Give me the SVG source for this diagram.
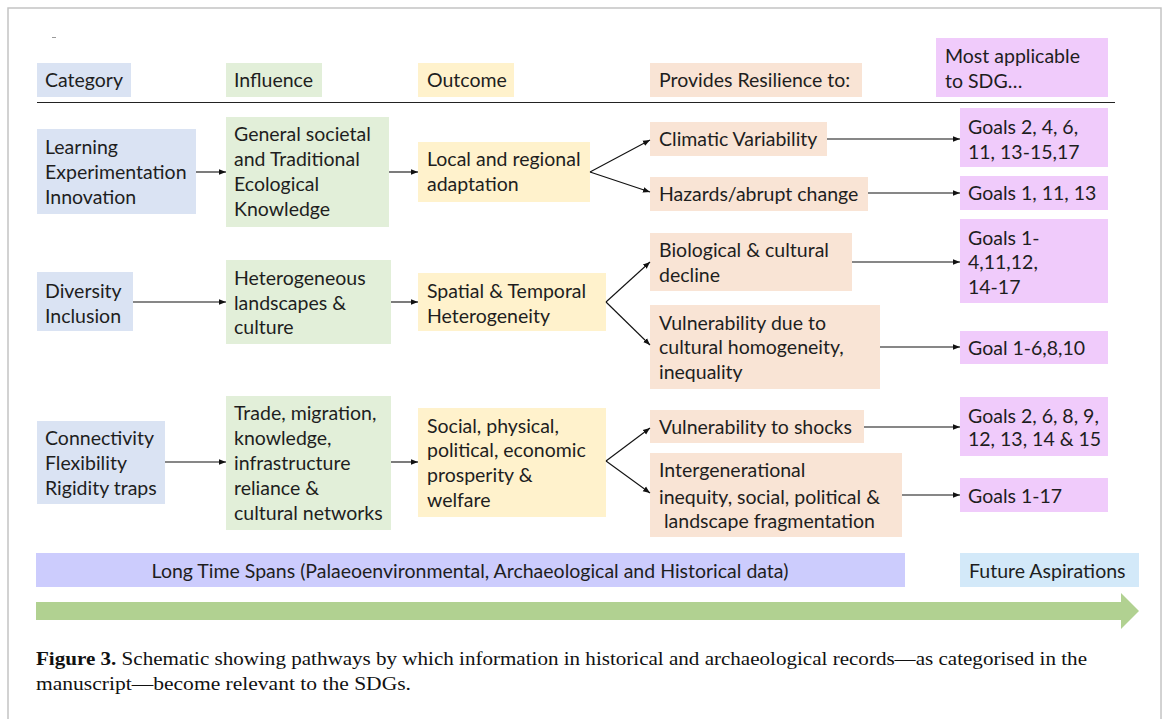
<svg xmlns="http://www.w3.org/2000/svg" width="1168" height="719" viewBox="0 0 1168 719">
  <defs>
    <marker id="ah" viewBox="0 0 10 10" refX="10" refY="5" markerWidth="7" markerHeight="7" markerUnits="userSpaceOnUse" orient="auto">
      <path d="M0,1 L10,5 L0,9 Z" fill="#111"/>
    </marker>
    <style>
      .t { font-family: Lato, "Open Sans", "Liberation Sans", sans-serif; font-size: 19.5px; fill: #1e1e1e; }
      .cat { fill: #dae3f3; }
      .inf { fill: #e2efd9; }
      .out { fill: #fff2cc; }
      .res { fill: #f9e4d5; }
      .sdg { fill: #f0cbfb; }
      .conn line { stroke: #111; stroke-width: 1.1; fill: none; marker-end: url(#ah); }
      .cap { font-family: "Liberation Serif", "Times New Roman", serif; font-size: 18px; fill: #111; }
    </style>
  </defs>

  <rect x="0" y="0" width="1168" height="719" fill="#ffffff"/>
  <!-- figure frame -->
  <rect x="8" y="8" width="1153" height="730" fill="#ffffff" stroke="#c4c4c4" stroke-width="1.5"/>
  <line x1="52" y1="37.5" x2="56" y2="37.5" stroke="#9a9a9a" stroke-width="1"/>

  <!-- column headers -->
  <g id="h-category"><rect class="cat" x="37" y="63" width="94" height="34"/><text class="t" x="45" y="87">Category</text></g>
  <g id="h-influence"><rect class="inf" x="226" y="63" width="96" height="34"/><text class="t" x="234" y="87">Influence</text></g>
  <g id="h-outcome"><rect class="out" x="418" y="63" width="96" height="34"/><text class="t" x="427" y="87">Outcome</text></g>
  <g id="h-resilience"><rect class="res" x="650" y="63" width="212" height="34"/><text class="t" x="659" y="87">Provides Resilience to:</text></g>
  <g id="h-sdg"><rect class="sdg" x="936" y="38" width="172" height="59"/><text class="t" x="945" y="63">Most applicable</text><text class="t" x="945" y="88">to SDG…</text></g>
  <line x1="37" y1="102.5" x2="1115" y2="102.5" stroke="#222" stroke-width="1.2"/>

  <!-- row 1 -->
  <g id="n-learning"><rect class="cat" x="37" y="129" width="159" height="85"/>
    <text class="t" x="45" y="154">Learning</text><text class="t" x="45" y="179">Experimentation</text><text class="t" x="45" y="204">Innovation</text></g>
  <g id="n-general"><rect class="inf" x="226" y="117" width="163" height="110"/>
    <text class="t" x="234" y="141">General societal</text><text class="t" x="234" y="166">and Traditional</text><text class="t" x="234" y="191">Ecological</text><text class="t" x="234" y="216">Knowledge</text></g>
  <g id="n-local"><rect class="out" x="418" y="142" width="172" height="60"/>
    <text class="t" x="427" y="166">Local and regional</text><text class="t" x="427" y="191">adaptation</text></g>
  <g id="n-climatic"><rect class="res" x="650" y="122" width="177" height="34"/>
    <text class="t" x="659" y="146">Climatic Variability</text></g>
  <g id="n-hazards"><rect class="res" x="650" y="177" width="218" height="34"/>
    <text class="t" x="659" y="201">Hazards/abrupt change</text></g>
  <g id="n-goals-a"><rect class="sdg" x="960" y="108" width="148" height="59"/>
    <text class="t" x="968" y="134">Goals 2, 4, 6,</text><text class="t" x="968" y="159">11, 13-15,17</text></g>
  <g id="n-goals-b"><rect class="sdg" x="960" y="176" width="148" height="34"/>
    <text class="t" x="968" y="200">Goals 1, 11, 13</text></g>

  <!-- row 2 -->
  <g id="n-diversity"><rect class="cat" x="37" y="272" width="96" height="59"/>
    <text class="t" x="45" y="298">Diversity</text><text class="t" x="45" y="323">Inclusion</text></g>
  <g id="n-hetero"><rect class="inf" x="226" y="260" width="165" height="84"/>
    <text class="t" x="234" y="285">Heterogeneous</text><text class="t" x="234" y="310">landscapes &amp;</text><text class="t" x="234" y="334">culture</text></g>
  <g id="n-spatial"><rect class="out" x="418" y="273" width="188" height="58"/>
    <text class="t" x="427" y="298">Spatial &amp; Temporal</text><text class="t" x="427" y="323">Heterogeneity</text></g>
  <g id="n-bio"><rect class="res" x="650" y="233" width="202" height="58"/>
    <text class="t" x="659" y="257">Biological &amp; cultural</text><text class="t" x="659" y="282">decline</text></g>
  <g id="n-vuln"><rect class="res" x="650" y="305" width="230" height="84"/>
    <text class="t" x="659" y="330">Vulnerability due to</text><text class="t" x="659" y="354">cultural homogeneity,</text><text class="t" x="659" y="379">inequality</text></g>
  <g id="n-goals-c"><rect class="sdg" x="960" y="219" width="148" height="84"/>
    <text class="t" x="968" y="245">Goals 1-</text><text class="t" x="968" y="269">4,11,12,</text><text class="t" x="968" y="294">14-17</text></g>
  <g id="n-goals-d"><rect class="sdg" x="960" y="331" width="148" height="33"/>
    <text class="t" x="968" y="355">Goal 1-6,8,10</text></g>

  <!-- row 3 -->
  <g id="n-connectivity"><rect class="cat" x="37" y="421" width="128" height="83"/>
    <text class="t" x="45" y="445">Connectivity</text><text class="t" x="45" y="470">Flexibility</text><text class="t" x="45" y="495">Rigidity traps</text></g>
  <g id="n-trade"><rect class="inf" x="226" y="396" width="165" height="134"/>
    <text class="t" x="234" y="420">Trade, migration,</text><text class="t" x="234" y="445">knowledge,</text><text class="t" x="234" y="470">infrastructure</text><text class="t" x="234" y="495">reliance &amp;</text><text class="t" x="234" y="520">cultural networks</text></g>
  <g id="n-social"><rect class="out" x="418" y="408" width="188" height="109"/>
    <text class="t" x="427" y="433">Social, physical,</text><text class="t" x="427" y="457">political, economic</text><text class="t" x="427" y="482">prosperity &amp;</text><text class="t" x="427" y="507">welfare</text></g>
  <g id="n-shocks"><rect class="res" x="650" y="410" width="214" height="33"/>
    <text class="t" x="659" y="434">Vulnerability to shocks</text></g>
  <g id="n-intergen"><rect class="res" x="650" y="453" width="252" height="84"/>
    <text class="t" x="659" y="477">Intergenerational</text><text class="t" x="659" y="504">inequity, social, political &amp;</text><text class="t" x="664" y="528">landscape fragmentation</text></g>
  <g id="n-goals-e"><rect class="sdg" x="960" y="397" width="148" height="59"/>
    <text class="t" x="968" y="423">Goals 2, 6, 8, 9,</text><text class="t" x="968" y="446">12, 13, 14 &amp; 15</text></g>
  <g id="n-goals-f"><rect class="sdg" x="960" y="478" width="148" height="34"/>
    <text class="t" x="968" y="503">Goals 1-17</text></g>

  <!-- connectors -->
  <g id="connectors" class="conn">
    <line x1="196" y1="172" x2="226" y2="172"/>
    <line x1="389" y1="172" x2="418" y2="172"/>
    <line x1="590" y1="172" x2="650" y2="140"/>
    <line x1="590" y1="172" x2="650" y2="192"/>
    <line x1="827" y1="139" x2="960" y2="139"/>
    <line x1="868" y1="193" x2="960" y2="193"/>
    <line x1="133" y1="302" x2="226" y2="302"/>
    <line x1="391" y1="302" x2="418" y2="302"/>
    <line x1="606" y1="302" x2="650" y2="262"/>
    <line x1="606" y1="302" x2="650" y2="345"/>
    <line x1="852" y1="262" x2="960" y2="262"/>
    <line x1="880" y1="347" x2="960" y2="347"/>
    <line x1="165" y1="462" x2="226" y2="462"/>
    <line x1="391" y1="462" x2="418" y2="462"/>
    <line x1="606" y1="461" x2="650" y2="428"/>
    <line x1="606" y1="461" x2="650" y2="493"/>
    <line x1="864" y1="427" x2="960" y2="427"/>
    <line x1="902" y1="495" x2="960" y2="495"/>
  </g>

  <!-- time axis -->
  <g id="n-timespans"><rect x="36" y="553" width="869" height="34" fill="#ccccfd"/>
    <text class="t" x="470" y="578" text-anchor="middle">Long Time Spans (Palaeoenvironmental, Archaeological and Historical data)</text></g>
  <g id="n-future"><rect x="960" y="553" width="179" height="34" fill="#d3e9f9"/>
    <text class="t" x="969" y="578">Future Aspirations</text></g>
  <polygon id="time-arrow" points="36,602 1121,602 1121,593 1139,611 1121,629 1121,620 36,620" fill="#b1d191"/>

  <!-- caption -->
  <text class="cap" x="36" y="665" textLength="1051" lengthAdjust="spacingAndGlyphs"><tspan font-weight="bold">Figure 3.</tspan> Schematic showing pathways by which information in historical and archaeological records—as categorised in the</text>
  <text class="cap" x="36" y="690" textLength="375" lengthAdjust="spacingAndGlyphs">manuscript—become relevant to the SDGs.</text>
</svg>
